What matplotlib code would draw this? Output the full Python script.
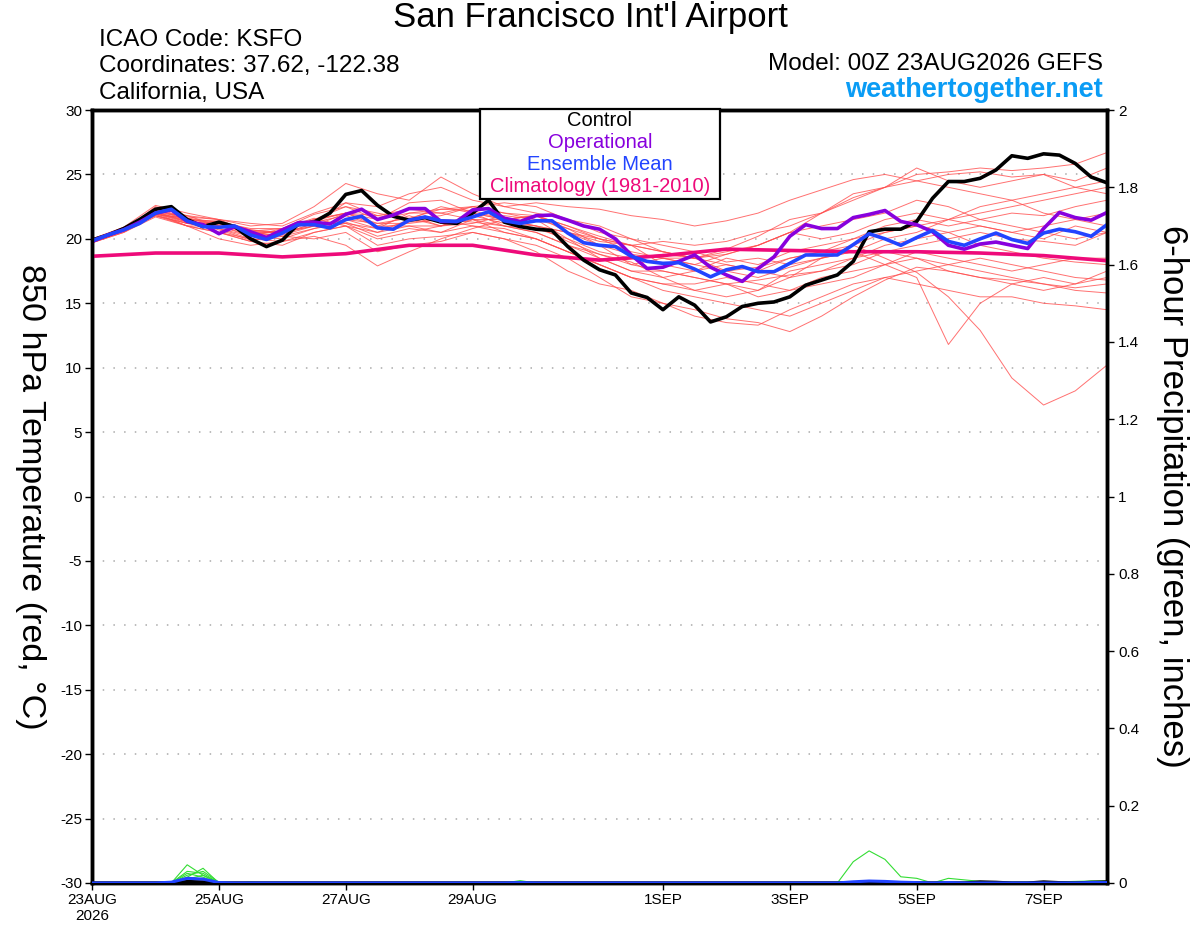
import numpy as np
import matplotlib
matplotlib.use('Agg')
import matplotlib.pyplot as plt
from matplotlib.patches import Rectangle

plt.rcParams['font.family'] = ['Liberation Sans', 'DejaVu Sans']
plt.rcParams['axes.unicode_minus'] = False

# time in days since 23AUG2026 00Z
t6 = np.arange(0, 16.01, 0.25)     # 6-hourly
t12 = np.arange(0, 16.01, 0.5)     # 12-hourly (ensemble members)
t24 = np.arange(0, 16.01, 1.0)     # daily (climatology)

tick_days = [0, 2, 4, 6, 9, 11, 13, 15]
tick_labels = ['23AUG\n2026', '25AUG', '27AUG', '29AUG', '1SEP', '3SEP', '5SEP', '7SEP']

control = [19.9, 20.3, 20.8, 21.5, 22.3, 22.5, 21.5, 20.95, 21.3, 20.95, 20.0, 19.4, 19.9,
           21.15, 21.3, 22.0, 23.45, 23.75, 22.6, 21.75, 21.45, 21.65, 21.3, 21.2, 22.0,
           23.0, 21.3, 20.95, 20.75, 20.65, 19.4, 18.35, 17.6, 17.2, 15.8, 15.45, 14.5,
           15.5, 14.85, 13.55, 13.95, 14.75, 15.0, 15.1, 15.5, 16.4, 16.8, 17.2, 18.25,
           20.55, 20.75, 20.75, 21.35, 23.15, 24.45, 24.45, 24.7, 25.35, 26.45, 26.25,
           26.6, 26.5, 25.85, 24.8, 24.35]

operational = [19.8, 20.3, 20.7, 21.3, 22.0, 22.25, 21.35, 21.1, 20.4, 20.95, 20.55, 20.1,
               20.7, 21.25, 21.3, 21.15, 21.9, 22.3, 21.5, 21.85, 22.35, 22.35, 21.35, 21.35,
               22.25, 22.35, 21.6, 21.35, 21.8, 21.85, 21.45, 21.0, 20.75, 20.0, 18.75, 17.7,
               17.8, 18.25, 18.75, 17.8, 17.2, 16.7, 17.7, 18.6, 20.2, 21.1, 20.8, 20.8,
               21.65, 21.9, 22.2, 21.35, 21.1, 20.55, 19.5, 19.2, 19.6, 19.75, 19.5, 19.25,
               20.8, 22.05, 21.65, 21.45, 22.05]

ens_mean = [19.85, 20.3, 20.7, 21.2, 22.0, 22.3, 21.4, 20.95, 20.9, 21.0, 20.3, 19.95, 20.45,
            21.1, 21.1, 20.85, 21.5, 21.75, 20.85, 20.75, 21.45, 21.7, 21.4, 21.35, 21.7,
            22.1, 21.4, 21.2, 21.4, 21.4, 20.45, 19.7, 19.5, 19.4, 18.65, 18.25, 18.1,
            18.15, 17.65, 17.05, 17.6, 17.85, 17.45, 17.45, 18.1, 18.75, 18.75, 18.75,
            19.55, 20.4, 20.0, 19.5, 20.1, 20.65, 19.8, 19.5, 20.0, 20.45, 19.95, 19.65,
            20.45, 20.75, 20.55, 20.2, 21.1]

climatology = [18.65, 18.9, 18.9, 18.6, 18.85, 19.5, 19.5, 18.75, 18.35, 18.7, 19.2, 19.1,
               19.0, 19.0, 18.9, 18.7, 18.3]

members = [
    [19.7, 20.6, 22.5, 21.8, 21.0, 20.6, 20.8, 21.9, 22.5, 21.5, 22.8, 23.0, 22.0, 21.5, 21.8, 21.0, 20.2,
     19.5, 19.0, 18.5, 19.2, 20.2, 21.5, 22.0, 23.2, 24.0, 25.0, 25.2, 25.5, 25.3, 25.5, 25.8, 26.7],
    [20.0, 20.9, 22.0, 21.0, 20.5, 19.8, 20.5, 21.5, 22.0, 21.0, 21.0, 20.5, 21.5, 21.0, 20.5, 19.5, 18.5,
     17.5, 17.0, 17.5, 18.0, 17.5, 18.5, 19.0, 19.5, 18.5, 17.4, 15.5, 12.9, 9.2, 7.1, 8.2, 10.2],
    [19.8, 20.7, 21.8, 21.2, 20.8, 20.2, 20.0, 20.8, 21.2, 20.2, 20.8, 20.5, 21.0, 20.8, 20.0, 19.0, 18.0,
     17.0, 16.5, 16.0, 15.5, 16.0, 17.0, 18.5, 19.0, 18.0, 17.0, 11.8, 15.0, 16.5, 17.0, 16.5, 17.5],
    [19.9, 20.8, 22.2, 21.5, 20.5, 20.0, 19.8, 20.5, 21.0, 19.5, 20.0, 20.2, 20.5, 20.0, 19.5, 18.5, 17.0,
     15.5, 15.0, 14.0, 13.5, 13.3, 14.5, 15.5, 16.5, 17.0, 17.5, 18.0, 17.5, 17.0, 16.5, 16.0, 15.8],
    [19.8, 20.6, 21.9, 21.0, 21.0, 20.5, 20.2, 20.0, 20.5, 19.0, 19.5, 19.8, 20.5, 20.0, 19.0, 17.5, 16.5,
     16.0, 15.0, 14.5, 13.8, 13.5, 12.8, 14.0, 15.5, 16.8, 17.8, 17.5, 17.0, 16.8, 16.5, 16.2, 16.5],
    [19.9, 20.9, 22.6, 22.0, 21.5, 21.0, 21.2, 22.5, 24.3, 23.5, 23.0, 24.8, 23.5, 22.5, 22.0, 21.5, 21.0,
     20.0, 19.0, 18.5, 18.8, 19.5, 20.5, 21.0, 21.5, 22.0, 23.0, 22.5, 21.5, 21.0, 20.5, 20.0, 20.5],
    [19.7, 20.5, 21.7, 21.0, 20.0, 19.5, 19.8, 20.2, 19.5, 17.9, 19.0, 20.0, 20.8, 21.5, 21.8, 21.0, 20.0,
     19.0, 18.5, 18.0, 17.5, 17.0, 17.8, 18.5, 19.5, 20.5, 21.0, 20.5, 19.5, 19.0, 18.5, 18.2, 18.0],
    [20.0, 20.8, 22.3, 21.5, 21.3, 20.8, 20.8, 21.5, 22.0, 21.5, 22.0, 22.3, 22.5, 22.0, 21.8, 20.5, 19.8,
     19.5, 19.8, 19.5, 19.8, 20.5, 21.0, 22.0, 23.5, 24.0, 24.5, 25.0, 25.2, 24.8, 25.0, 24.5, 25.5],
    [19.8, 20.7, 22.0, 21.8, 21.5, 21.2, 21.0, 22.0, 22.8, 22.5, 23.5, 24.0, 23.0, 22.5, 22.8, 22.5, 22.3,
     21.8, 21.5, 21.0, 21.4, 22.0, 23.0, 23.8, 24.6, 25.0, 24.5, 24.0, 23.5, 23.0, 23.5, 24.0, 24.5],
    [19.9, 20.7, 21.8, 21.2, 20.8, 20.0, 20.5, 21.0, 21.3, 20.5, 21.0, 21.0, 21.2, 21.8, 21.5, 20.0, 18.5,
     17.5, 17.5, 17.0, 16.5, 16.8, 17.2, 17.5, 18.5, 19.0, 18.5, 18.0, 18.5, 18.0, 17.5, 17.0, 16.8],
    [19.8, 20.6, 22.0, 21.3, 21.2, 20.5, 20.6, 21.3, 21.8, 21.0, 21.8, 21.0, 21.8, 21.2, 21.0, 20.5, 20.0,
     19.5, 18.0, 17.5, 18.5, 18.0, 19.0, 19.5, 20.0, 21.0, 21.5, 21.0, 21.5, 22.0, 21.8, 22.5, 23.0],
    [19.9, 20.8, 21.9, 21.6, 21.0, 20.2, 20.8, 21.6, 21.0, 20.5, 21.5, 21.8, 22.5, 22.0, 21.5, 20.8, 20.0,
     19.5, 19.0, 18.5, 18.0, 17.5, 17.0, 17.5, 18.0, 19.0, 19.5, 20.0, 20.5, 20.0, 19.8, 19.5, 20.5],
    [19.7, 20.5, 21.8, 21.0, 20.5, 19.8, 19.5, 20.5, 21.0, 20.0, 20.5, 21.0, 21.5, 20.5, 20.0, 19.0, 18.0,
     17.0, 16.0, 15.5, 15.0, 14.5, 14.0, 15.0, 16.0, 17.0, 16.5, 16.0, 15.5, 15.5, 15.0, 14.8, 14.5],
    [19.8, 20.7, 22.1, 21.4, 21.4, 20.7, 20.5, 21.5, 22.5, 22.0, 21.5, 22.5, 22.0, 21.0, 20.8, 20.0, 19.0,
     18.5, 18.8, 18.5, 19.0, 19.5, 20.5, 20.0, 20.5, 21.5, 22.0, 21.5, 21.0, 20.5, 21.0, 21.5, 22.0],
    [20.0, 20.8, 22.2, 21.7, 21.5, 20.5, 20.5, 21.0, 22.0, 21.8, 22.3, 22.0, 22.5, 22.8, 22.5, 21.5, 20.5,
     20.0, 19.5, 19.0, 18.2, 18.5, 18.0, 18.5, 19.0, 20.0, 20.5, 21.5, 22.5, 23.0, 22.0, 21.5, 21.0],
    [19.9, 20.6, 22.0, 21.2, 21.2, 20.4, 20.3, 21.0, 21.5, 21.2, 21.2, 21.5, 21.3, 21.0, 20.5, 19.5, 18.8,
     18.0, 18.5, 18.0, 18.8, 19.5, 20.5, 22.0, 23.0, 24.0, 25.5, 24.5, 24.0, 24.5, 25.0, 24.0, 23.5],
    [19.8, 20.7, 22.1, 21.3, 20.7, 19.9, 20.2, 20.8, 21.5, 20.8, 21.3, 21.5, 21.0, 20.5, 20.0, 19.0, 18.0,
     17.0, 16.5, 16.5, 17.0, 16.5, 16.0, 16.5, 17.0, 18.0, 19.0, 18.5, 18.0, 17.5, 18.0, 18.5, 18.5],
    [19.7, 20.6, 21.9, 21.6, 21.1, 20.6, 20.4, 21.2, 21.2, 20.8, 22.0, 22.0, 21.5, 21.5, 21.0, 19.8, 18.8,
     18.2, 17.0, 16.0, 16.5, 16.0, 17.5, 18.0, 18.5, 19.5, 20.0, 20.5, 21.0, 20.5, 20.0, 21.0, 20.5],
    [19.9, 20.8, 22.0, 21.4, 21.0, 20.3, 20.6, 21.4, 22.0, 21.2, 21.6, 22.3, 22.2, 21.5, 21.0, 20.5, 19.5,
     18.0, 17.5, 17.0, 16.5, 15.5, 16.0, 17.0, 17.5, 18.0, 18.5, 17.5, 17.0, 16.5, 16.0, 16.5, 17.0],
    [19.8, 20.7, 22.4, 21.6, 21.3, 20.7, 20.4, 21.2, 22.8, 21.8, 21.6, 21.0, 22.0, 21.5, 21.8, 20.8, 19.5,
     18.8, 18.5, 18.5, 17.5, 17.8, 18.5, 19.0, 20.0, 20.5, 21.0, 21.5, 22.0, 22.5, 23.0, 23.5, 24.0],
]

# 6-hour precipitation (inches), 6-hourly steps
precip_members = [
    [0, 0, 0, 0, 0, 0, .047, .020, 0, 0, .002, 0, 0, 0, 0, 0, 0, 0, 0, 0, 0, 0, 0, 0, 0, 0, 0, .006,
     0, 0, 0, 0, 0, 0, 0, 0, 0, 0, 0, 0, 0, 0, 0, 0, 0, 0, 0, 0, .055, .083, .061, .016, .012, 0, .012,
     .008, .004, .003, .002, .002, .003, .003, .004, .005, .004],
    [0, 0, 0, 0, 0, 0, .015, .038, 0, 0, 0, 0, .001, 0, 0, 0, 0, 0, 0, 0, 0, 0, 0, 0, 0, 0, 0, 0,
     0, 0, 0, 0, 0, 0, 0, 0, 0, 0, 0, 0, 0, 0, 0, 0, 0, 0, 0, 0, 0, .002, .003, 0, 0, 0, 0,
     0, 0, 0, 0, 0, 0, .002, .003, .004, .005],
    [0, 0, 0, 0, 0, 0, .030, .025, 0, 0, 0, 0, 0, 0, 0, 0, 0, 0, 0, 0, 0, 0, 0, 0, 0, 0, 0, 0,
     0, 0, 0, 0, 0, 0, 0, 0, 0, 0, 0, 0, 0, 0, 0, 0, 0, 0, 0, 0, 0, 0, 0, 0, 0, 0, 0,
     0, 0, 0, 0, 0, 0, 0, 0, 0, 0],
    [0, 0, 0, 0, 0, 0, .020, .030, .002, 0, 0, 0, 0, 0, 0, 0, 0, 0, 0, 0, 0, 0, 0, 0, 0, 0, 0, 0,
     0, 0, 0, 0, 0, 0, 0, 0, 0, 0, 0, 0, 0, 0, 0, 0, 0, 0, 0, 0, 0, 0, 0, 0, 0, 0, 0,
     0, 0, 0, 0, 0, 0, 0, 0, 0, 0],
    [0, 0, 0, 0, 0, 0, .025, .015, 0, 0, 0, 0, 0, 0, 0, 0, 0, 0, 0, 0, 0, 0, 0, 0, 0, 0, 0, 0,
     0, 0, 0, 0, 0, 0, 0, 0, 0, 0, 0, 0, 0, 0, 0, 0, 0, 0, 0, 0, 0, 0, 0, 0, 0, 0, 0,
     0, 0, 0, 0, 0, 0, 0, 0, 0, 0],
    [0, 0, 0, 0, 0, 0, .010, .020, 0, 0, 0, 0, 0, 0, 0, 0, 0, 0, 0, 0, 0, 0, 0, 0, 0, 0, 0, 0,
     0, 0, 0, 0, 0, 0, 0, 0, 0, 0, 0, 0, 0, 0, 0, 0, 0, 0, 0, 0, 0, 0, 0, 0, 0, 0, 0,
     0, 0, 0, 0, 0, 0, 0, 0, 0, 0],
]
precip_mean = [0, 0, 0, 0, 0, .002, .012, .010, .001, 0, 0, 0, 0, 0, 0, 0, 0, 0, 0, 0, 0, 0, 0, 0,
               0, 0, 0, .001, 0, 0, 0, 0, 0, 0, 0, 0, 0, 0, 0, 0, 0, 0, 0, 0, 0, 0, 0, 0, .003,
               .005, .004, .002, .001, 0, .001, 0, 0, 0, 0, 0, 0, 0, 0, .001, .001]
precip_control = [0, 0, 0, 0, 0, 0, .004, .003, 0, 0, 0, 0, 0, 0, 0, 0, 0, 0, 0, 0, 0, 0, 0, 0,
                  0, 0, 0, 0, 0, 0, 0, 0, 0, 0, 0, 0, 0, 0, 0, 0, 0, 0, 0, 0, 0, 0, 0, 0, 0,
                  0, 0, 0, 0, 0, 0, 0, .003, .002, 0, 0, .003, .001, 0, .002, .003]

c_member = '#ff4d4d'
c_control = 'black'
c_oper = '#8800dd'
c_mean = '#2244ff'
c_clim = '#ee0a7a'
c_precip = '#33dd33'

fig = plt.figure(figsize=(12, 9.27), dpi=100)
ax = fig.add_axes([0.0767, 0.0475, 0.8458, 0.8338])

for m in members:
    ax.plot(t12, m, color=c_member, lw=0.7, alpha=0.8, zorder=2)
ax.plot(t24, climatology, color=c_clim, lw=2.6, zorder=3)
ax.plot(t6, control, color=c_control, lw=2.6, zorder=4)
ax.plot(t6, operational, color=c_oper, lw=2.6, zorder=4)
ax.plot(t6, ens_mean, color=c_mean, lw=2.6, zorder=5)

ax.set_xlim(0, 16)
ax.set_ylim(-30, 30)
ax.set_yticks(np.arange(-30, 31, 5))
ax.set_xticks(tick_days)
ax.set_xticklabels(tick_labels)
for y in range(-25, 30, 5):
    ax.axhline(y, color='#aaaaaa', lw=1.1, ls=(0, (1, 6)), zorder=1)
ax.tick_params(axis='both', labelsize=11, length=5, width=1, direction='out', pad=2)
for s in ax.spines.values():
    s.set_linewidth(2.5)
ax.set_ylabel('850 hPa Temperature (red, °C)', fontsize=24.5, rotation=270, va='center')
ax.yaxis.set_label_coords(-0.061, 0.5)

ax2 = ax.twinx()
for p in precip_members:
    ax2.plot(t6, p, color=c_precip, lw=0.8, zorder=2)
ax2.plot(t6, precip_control, color=c_control, lw=2.2, zorder=3)
ax2.plot(t6, precip_mean, color=c_mean, lw=2.2, zorder=4)
ax2.set_ylim(0, 2)
ax2.set_yticks(np.arange(0, 2.01, 0.2))
ax2.set_yticklabels(['0', '0.2', '0.4', '0.6', '0.8', '1', '1.2', '1.4', '1.6', '1.8', '2'])
ax2.tick_params(axis='y', labelsize=11, length=5, width=1, direction='out', pad=3)
for s in ax2.spines.values():
    s.set_linewidth(2.5)
ax2.set_ylabel('6-hour Precipitation (green, inches)', fontsize=25, rotation=270, va='center')
ax2.yaxis.set_label_coords(1.065, 0.5)

# legend box
fig.patches.append(Rectangle((0.4, 0.7853), 0.2, 0.0971, transform=fig.transFigure,
                             fill=True, facecolor='white', edgecolor='black', lw=1.6, zorder=10))
leg_items = [('Control', c_control), ('Operational', c_oper),
             ('Ensemble Mean', c_mean), ('Climatology (1981-2010)', c_clim)]
for i, (name, col) in enumerate(leg_items):
    fig.text(0.5, 0.8695 - i * 0.0234, name, color=col, fontsize=14.5, ha='center', va='center', zorder=11)

fig.text(0.4917, 0.9806, "San Francisco Int'l Airport", fontsize=25, ha='center', va='center')
fig.text(0.0825, 0.9569, 'ICAO Code: KSFO', fontsize=17.5, ha='left', va='center')
fig.text(0.0825, 0.9288, 'Coordinates: 37.62, -122.38', fontsize=17.5, ha='left', va='center')
fig.text(0.0825, 0.8997, 'California, USA', fontsize=17.5, ha='left', va='center')
fig.text(0.919, 0.931, 'Model: 00Z 23AUG2026 GEFS', fontsize=17.5, ha='right', va='center')
fig.text(0.919, 0.9029, 'weathertogether.net', fontsize=19.5, fontweight='bold', color='#0a9cf5',
         ha='right', va='center')

fig.savefig('out.png', dpi=100)
